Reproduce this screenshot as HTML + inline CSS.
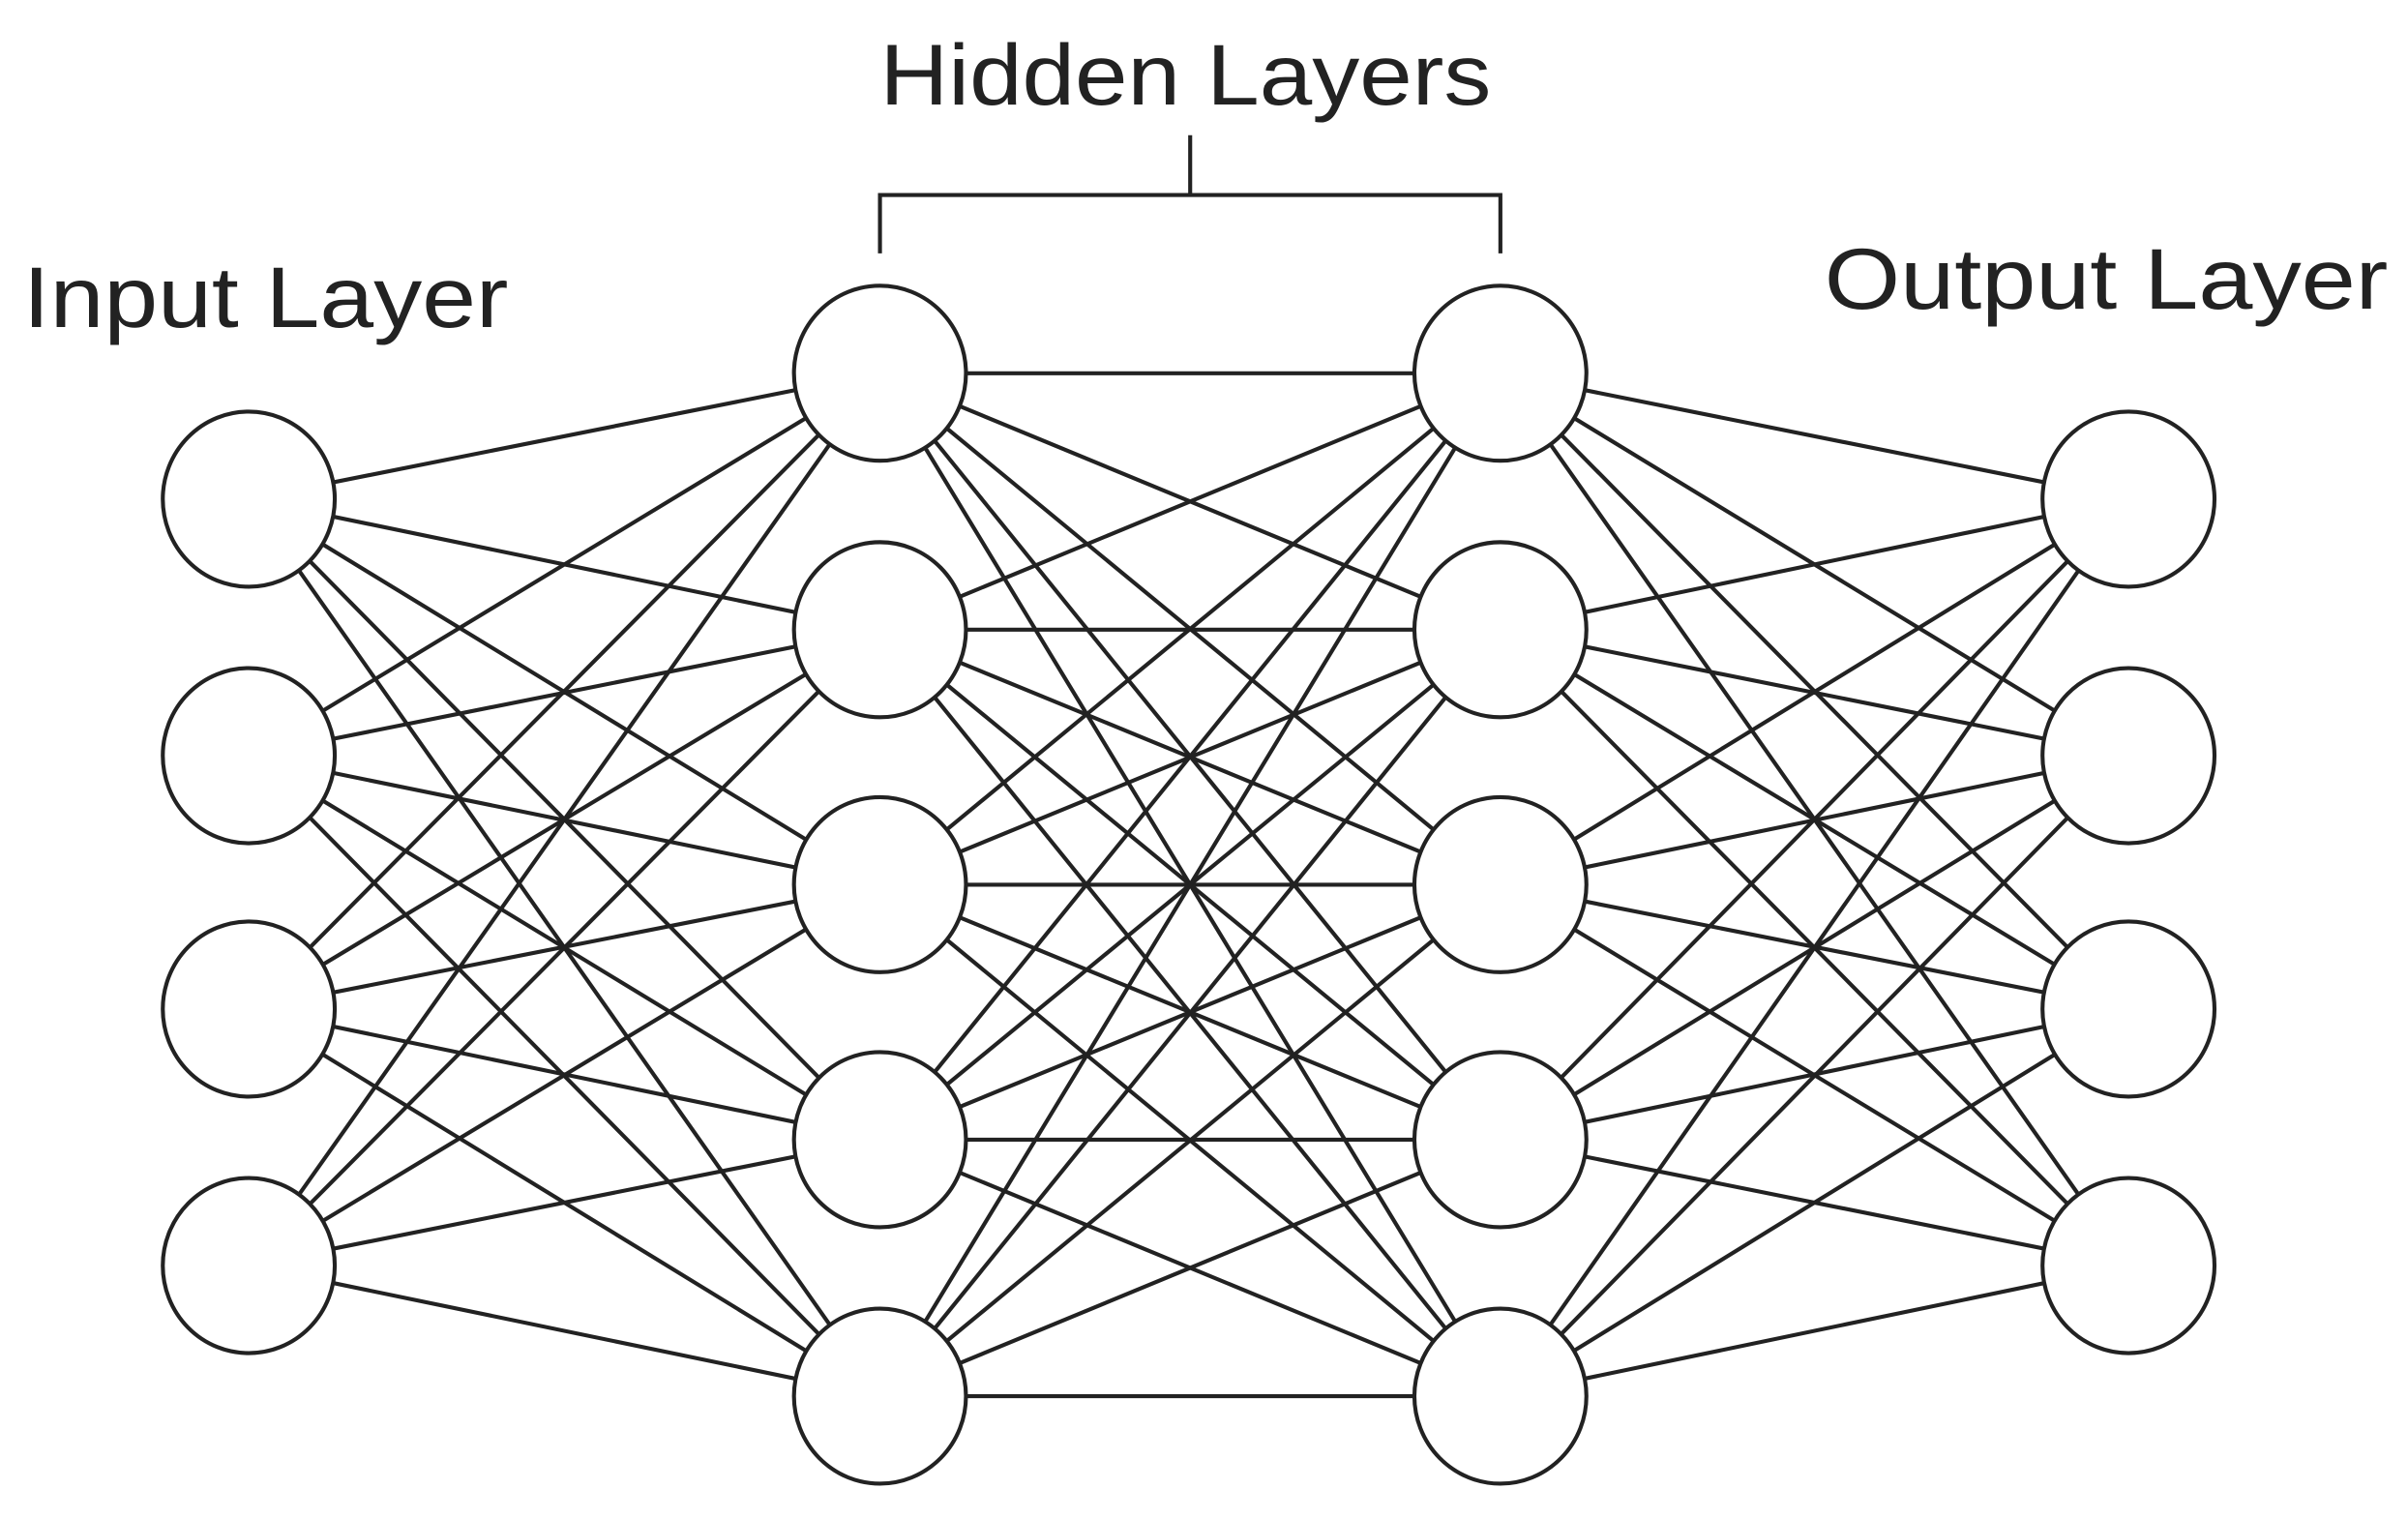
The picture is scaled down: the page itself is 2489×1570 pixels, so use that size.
<!DOCTYPE html>
<html><head><meta charset="utf-8"><style>html,body{margin:0;padding:0;background:#fff}svg{display:block}</style></head>
<body>
<svg width="2489" height="1570" viewBox="0 0 1568 989" preserveAspectRatio="none" xmlns="http://www.w3.org/2000/svg">
<g stroke="#222" stroke-width="2.6" fill="none" id="lines"></g>
<g id="nodes"></g>
<g stroke="#222" stroke-width="2.6" fill="none">
<polyline points="573,165 573,127 977,127 977,165"/>
<line x1="775" y1="127" x2="775" y2="88"/>
</g>
<g font-family="'Liberation Sans', sans-serif" font-size="56" fill="#222">
<text x="573" y="68" textLength="398" lengthAdjust="spacingAndGlyphs">Hidden Layers</text>
<text x="15" y="213" textLength="316" lengthAdjust="spacingAndGlyphs">Input Layer</text>
<text x="1188" y="201" textLength="367" lengthAdjust="spacingAndGlyphs">Output Layer</text>
</g>
<script>
var L=[[162,[325,492,657,824]],[573,[243,410,576,742,909]],[977,[243,410,576,742,909]],[1386,[325,492,657,824]]];
var ns="http://www.w3.org/2000/svg",lg=document.getElementById('lines'),ng=document.getElementById('nodes');
for(var i=0;i<3;i++){var a=L[i],b=L[i+1];a[1].forEach(function(y1){b[1].forEach(function(y2){var l=document.createElementNS(ns,'line');l.setAttribute('x1',a[0]);l.setAttribute('y1',y1);l.setAttribute('x2',b[0]);l.setAttribute('y2',y2);lg.appendChild(l);});});}
L.forEach(function(c){c[1].forEach(function(y){var e=document.createElementNS(ns,'ellipse');e.setAttribute('cx',c[0]);e.setAttribute('cy',y);e.setAttribute('rx',56);e.setAttribute('ry',57);e.setAttribute('fill','#fff');e.setAttribute('stroke','#222');e.setAttribute('stroke-width','2.6');ng.appendChild(e);});});
</script>
</svg>
</body></html>
